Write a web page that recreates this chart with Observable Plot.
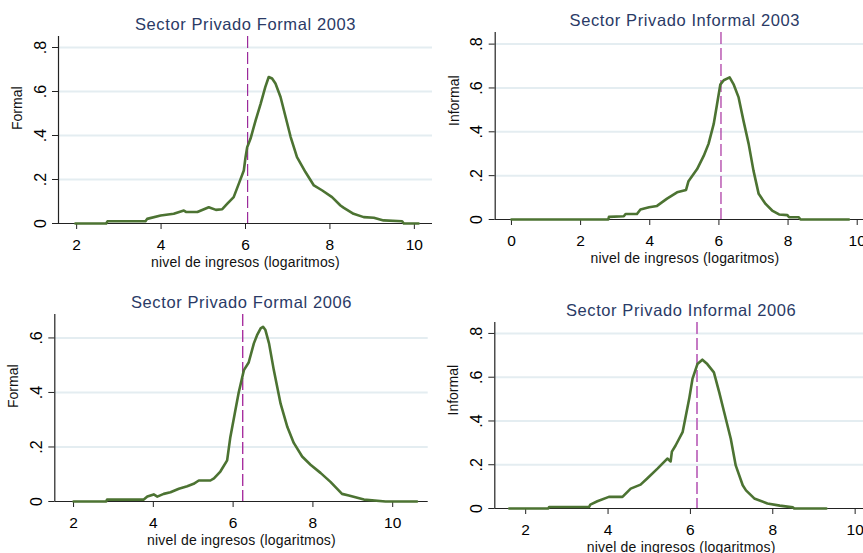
<!DOCTYPE html>
<html><head><meta charset="utf-8">
<script src="https://cdn.jsdelivr.net/npm/d3@7"></script>
<script src="https://cdn.jsdelivr.net/npm/@observablehq/plot@0.6"></script>
<style>
html,body{margin:0;padding:0;background:#fff;overflow:hidden}
#wrap{position:relative;width:863px;height:553px;overflow:hidden;font-family:"Liberation Sans",Arial,sans-serif}
.panel{position:absolute;overflow:visible}
</style></head><body><div id="wrap"></div>
<script>
// ---- data ----
const titles = ["Sector Privado Formal 2003", "Sector Privado Informal 2003", "Sector Privado Formal 2006", "Sector Privado Informal 2006"];
const yLabels = ["Formal", "Informal", "Formal", "Informal"];
const xLabel = "nivel de ingresos (logaritmos)";

const formal2003X = [1.97,2.7,2.73,3.63,3.67,3.99,4.3,4.54,4.6,4.86,5.13,5.3,5.45,5.57,5.72,5.84,5.96,6.0,6.04,6.12,6.24,6.36,6.47,6.55,6.63,6.71,6.83,6.95,7.07,7.22,7.42,7.62,7.82,8.05,8.25,8.33,8.56,8.8,9.04,9.27,9.71,9.75,10.1];
const formal2003Y = [0,0,0.01,0.01,0.021,0.036,0.044,0.059,0.052,0.052,0.074,0.062,0.065,0.09,0.12,0.18,0.241,0.3,0.347,0.386,0.469,0.545,0.621,0.666,0.659,0.636,0.575,0.484,0.393,0.302,0.234,0.173,0.15,0.12,0.082,0.071,0.044,0.029,0.026,0.014,0.01,0,0];

const informal2003X = [0,2.8,2.82,3.25,3.3,3.63,3.73,3.98,4.21,4.5,4.79,5.05,5.12,5.37,5.56,5.7,5.85,5.94,6.04,6.14,6.31,6.43,6.57,6.71,6.86,7.0,7.15,7.35,7.54,7.74,7.98,8.03,8.31,8.36,9.76];
const informal2003Y = [0,0,0.012,0.015,0.025,0.025,0.046,0.056,0.062,0.095,0.124,0.135,0.175,0.23,0.29,0.345,0.436,0.52,0.615,0.635,0.648,0.615,0.557,0.451,0.345,0.223,0.117,0.071,0.041,0.023,0.02,0.01,0.01,0,0];

const formal2006X = [2,2.82,2.84,3.76,3.85,4.01,4.1,4.26,4.43,4.64,4.85,5.01,5.14,5.43,5.52,5.68,5.85,5.93,6.04,6.14,6.27,6.39,6.52,6.6,6.69,6.75,6.81,6.9,7.02,7.19,7.36,7.52,7.73,7.94,8.19,8.44,8.73,8.9,9.28,9.82,10.61];
const formal2006Y = [0,0,0.007,0.007,0.018,0.026,0.018,0.028,0.034,0.047,0.056,0.065,0.077,0.077,0.085,0.11,0.151,0.236,0.322,0.4,0.482,0.51,0.58,0.61,0.635,0.641,0.629,0.58,0.482,0.359,0.273,0.215,0.165,0.135,0.105,0.072,0.028,0.022,0.007,0,0];

const informal2006X = [1.6,2.55,2.57,3.54,3.57,3.74,4.02,4.35,4.55,4.79,4.95,5.2,5.44,5.52,5.55,5.64,5.81,5.89,5.97,6.05,6.17,6.29,6.41,6.57,6.7,6.82,6.98,7.1,7.27,7.35,7.55,7.87,8.17,8.49,8.52,9.3];
const informal2006Y = [0,0,0.007,0.007,0.018,0.033,0.053,0.053,0.091,0.109,0.137,0.182,0.228,0.215,0.26,0.288,0.349,0.425,0.501,0.592,0.66,0.68,0.66,0.622,0.531,0.44,0.319,0.197,0.106,0.083,0.046,0.023,0.013,0.005,0,0];

const meanLines = [6.05, 6.06, 6.24, 6.16];
const xTicks = [[2,4,6,8,10],[0,2,4,6,8,10],[2,4,6,8,10],[2,4,6,8,10]];
const yTicks = [[0,0.2,0.4,0.6,0.8],[0,0.2,0.4,0.6,0.8],[0,0.2,0.4,0.6],[0,0.2,0.4,0.6,0.8]];
const xDomains = [[1.57,10.43],[-0.47,10.5],[1.53,10.89],[1.25,10.3]];
const yDomains = [[0,0.85],[0,0.853],[0,0.686],[0,0.85]];

const seriesX = [formal2003X, informal2003X, formal2006X, informal2006X];
const seriesY = [formal2003Y, informal2003Y, formal2006Y, informal2006Y];

// ---- layout ----
const layout = [
  {left:0,   top:0,   w:432, h:280, ml:58,   mr:0,   mt:36, mb:57,  dash:"#9b2a9b", dw:1.2},
  {left:432, top:0,   w:442, h:280, ml:62.7, mr:0,   mt:32, mb:61,  dash:"#a8309f", dw:1.2},
  {left:0,   top:280, w:432, h:273, ml:54.3, mr:4.3, mt:34, mb:52,  dash:"#a8309f", dw:1.4},
  {left:432, top:280, w:435, h:273, ml:62.3, mr:0,   mt:42, mb:45,  dash:"#c57ac4", dw:2}
];

const fmtY = d => d === 0 ? "0" : String(d).replace(/^0/, "");
const wrap = document.getElementById("wrap");

layout.forEach((c, i) => {
  const data = seriesX[i].map((x, j) => ({x, y: seriesY[i][j]}));
  const grid = yTicks[i].filter(d => d > 0);
  const plot = Plot.plot({
    width: c.w, height: c.h,
    marginLeft: c.ml, marginRight: c.mr, marginTop: c.mt, marginBottom: c.mb,
    x: {domain: xDomains[i]},
    y: {domain: yDomains[i]},
    style: {fontFamily: '"Liberation Sans", Arial, sans-serif', fontSize: "15px", color: "#000", background: "transparent", maxWidth: "none", overflow: "visible"},
    marks: [
      Plot.gridY(grid, {stroke: "#e4edf1", strokeOpacity: 1, strokeWidth: 2}),
      Plot.ruleY([0], {stroke: "#222", strokeWidth: 1.2}),
      Plot.ruleX([xDomains[i][0]], {stroke: "#222", strokeWidth: 1.2}),
      Plot.axisX(xTicks[i], {tickSize: 6, tickPadding: 9, tickFormat: d => String(d), label: null, fontSize: 15.5, stroke: "#222"}),
      Plot.axisY(yTicks[i], {tickSize: 6, tickRotate: -90, tickPadding: 7, tickFormat: fmtY, label: null, fontSize: 16, stroke: "#222"}),
      Plot.ruleX([meanLines[i]], {stroke: c.dash, strokeWidth: c.dw, strokeDasharray: "12,4"}),
      Plot.line(data, {x: "x", y: "y", stroke: "#4c7332", strokeWidth: 2.6}),
      Plot.text([titles[i]], {text: d => d, frameAnchor: "top", dy: -12, fontSize: 16.5, fill: "#2a3a66", lineAnchor: "middle", style: "letter-spacing:0.5px"}),
      Plot.text([xLabel], {text: d => d, frameAnchor: "bottom", dy: 39, fontSize: 14, fill: "#111", lineAnchor: "middle"}),
      Plot.text([yLabels[i]], {text: d => d, frameAnchor: "left", dx: -41, rotate: -90, fontSize: 14, fill: "#111", lineAnchor: "middle"})
    ]
  });
  plot.querySelectorAll("text").forEach(t => {
    if (t.textContent === titles[i]) t.style.letterSpacing = "0.6px";
    if (t.textContent === xLabel) t.style.letterSpacing = "0.2px";
  });
  const div = document.createElement("div");
  div.className = "panel";
  div.style.left = c.left + "px";
  div.style.top = c.top + "px";
  div.style.width = c.w + "px";
  div.style.height = c.h + "px";
  div.appendChild(plot);
  wrap.appendChild(div);
});
</script>
</body></html>
